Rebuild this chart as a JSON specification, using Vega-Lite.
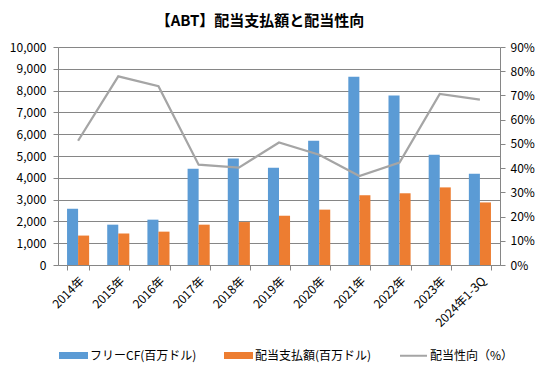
{
  "$schema": "https://vega.github.io/schema/vega-lite/v6.json",
  "width": 442,
  "height": 218,
  "autosize": {"type": "none"},
  "padding": {"left": 58, "top": 47, "right": 46, "bottom": 110},
  "background": "#ffffff",
  "title": {
    "text": "【ABT】配当支払額と配当性向",
    "font": "Noto Sans CJK JP",
    "fontSize": 15,
    "fontWeight": "bold",
    "color": "#000000",
    "anchor": "middle",
    "dx": -19,
    "offset": 12
  },
  "config": {
    "font": "Noto Sans CJK JP",
    "view": {"stroke": null},
    "axis": {
      "domainColor": "#868686",
      "tickColor": "#868686",
      "gridColor": "#868686",
      "labelColor": "#000000",
      "labelFont": "Noto Sans CJK JP",
      "labelFontSize": 12,
      "tickSize": 5,
      "title": null
    }
  },
  "data": {
    "values": [
      {"year": "2014年", "series": "フリーCF(百万ドル)", "value": 2580},
      {"year": "2015年", "series": "フリーCF(百万ドル)", "value": 1850},
      {"year": "2016年", "series": "フリーCF(百万ドル)", "value": 2080},
      {"year": "2017年", "series": "フリーCF(百万ドル)", "value": 4420},
      {"year": "2018年", "series": "フリーCF(百万ドル)", "value": 4880},
      {"year": "2019年", "series": "フリーCF(百万ドル)", "value": 4460},
      {"year": "2020年", "series": "フリーCF(百万ドル)", "value": 5700},
      {"year": "2021年", "series": "フリーCF(百万ドル)", "value": 8640},
      {"year": "2022年", "series": "フリーCF(百万ドル)", "value": 7780},
      {"year": "2023年", "series": "フリーCF(百万ドル)", "value": 5060},
      {"year": "2024年1-3Q", "series": "フリーCF(百万ドル)", "value": 4190},
      {"year": "2014年", "series": "配当支払額(百万ドル)", "value": 1350},
      {"year": "2015年", "series": "配当支払額(百万ドル)", "value": 1440},
      {"year": "2016年", "series": "配当支払額(百万ドル)", "value": 1530},
      {"year": "2017年", "series": "配当支払額(百万ドル)", "value": 1850},
      {"year": "2018年", "series": "配当支払額(百万ドル)", "value": 1970},
      {"year": "2019年", "series": "配当支払額(百万ドル)", "value": 2260},
      {"year": "2020年", "series": "配当支払額(百万ドル)", "value": 2540},
      {"year": "2021年", "series": "配当支払額(百万ドル)", "value": 3200},
      {"year": "2022年", "series": "配当支払額(百万ドル)", "value": 3290},
      {"year": "2023年", "series": "配当支払額(百万ドル)", "value": 3560},
      {"year": "2024年1-3Q", "series": "配当支払額(百万ドル)", "value": 2870},
      {"year": "2014年", "series": "配当性向（%）", "value": 0.513},
      {"year": "2015年", "series": "配当性向（%）", "value": 0.779},
      {"year": "2016年", "series": "配当性向（%）", "value": 0.738},
      {"year": "2017年", "series": "配当性向（%）", "value": 0.414},
      {"year": "2018年", "series": "配当性向（%）", "value": 0.402},
      {"year": "2019年", "series": "配当性向（%）", "value": 0.506},
      {"year": "2020年", "series": "配当性向（%）", "value": 0.455},
      {"year": "2021年", "series": "配当性向（%）", "value": 0.367},
      {"year": "2022年", "series": "配当性向（%）", "value": 0.423},
      {"year": "2023年", "series": "配当性向（%）", "value": 0.706},
      {"year": "2024年1-3Q", "series": "配当性向（%）", "value": 0.683}
    ]
  },
  "encoding": {
    "x": {
      "field": "year",
      "type": "nominal",
      "sort": null,
      "scale": {"paddingInner": 0.45, "paddingOuter": 0.225},
      "axis": {
        "tickBand": "extent",
        "labelAngle": -45,
        "labelPadding": 5,
        "grid": false
      }
    },
    "color": {
      "field": "series",
      "type": "nominal",
      "sort": null,
      "scale": {
        "domain": ["フリーCF(百万ドル)", "配当支払額(百万ドル)", "配当性向（%）"],
        "range": ["#5B9BD5", "#ED7D31", "#A5A5A5"]
      },
      "legend": {
        "title": null,
        "orient": "none",
        "direction": "horizontal",
        "columns": 3,
        "legendX": 1,
        "legendY": 294,
        "labelFont": "Noto Sans CJK JP",
        "labelFontSize": 12,
        "labelColor": "#000000",
        "labelOffset": 2,
        "columnPadding": 24,
        "symbolSize": 729,
        "symbolType": "M-1,-0.18H1V0.18H-1Z",
        "encode": {
          "symbols": {
            "update": {
              "shape": {"signal": "datum.value === '配当性向（%）' ? 'M-1,0H1' : 'M-1,-0.18H1V0.18H-1Z'"},
              "fill": {"signal": "datum.value === '配当性向（%）' ? 'transparent' : (datum.value === 'フリーCF(百万ドル)' ? '#5B9BD5' : '#ED7D31')"},
              "stroke": {"signal": "datum.value === '配当性向（%）' ? '#A5A5A5' : 'transparent'"},
              "strokeWidth": {"value": 2},
              "opacity": {"value": 1},
              "fillOpacity": {"value": 1}
            }
          }
        }
      }
    }
  },
  "layer": [
    {
      "transform": [{"filter": "datum.series !== '配当性向（%）'"}],
      "mark": {"type": "bar", "opacity": 1},
      "encoding": {
        "xOffset": {
          "field": "series",
          "type": "nominal",
          "sort": ["フリーCF(百万ドル)", "配当支払額(百万ドル)"],
          "scale": {"paddingInner": 0, "paddingOuter": 0}
        },
        "y": {
          "field": "value",
          "type": "quantitative",
          "scale": {"domain": [0, 10000], "nice": false},
          "axis": {
            "values": [0, 1000, 2000, 3000, 4000, 5000, 6000, 7000, 8000, 9000, 10000],
            "format": ",.0f",
            "grid": true,
            "labelPadding": 7
          }
        }
      }
    },
    {
      "transform": [{"filter": "datum.series === '配当性向（%）'"}],
      "mark": {"type": "line", "strokeWidth": 2.25},
      "encoding": {
        "y": {
          "field": "value",
          "type": "quantitative",
          "scale": {"domain": [0, 0.9], "nice": false},
          "axis": {
            "orient": "right",
            "values": [0, 0.1, 0.2, 0.3, 0.4, 0.5, 0.6, 0.7, 0.8, 0.9],
            "format": ".0%",
            "grid": false,
            "labelPadding": 5
          }
        }
      }
    }
  ],
  "resolve": {"scale": {"y": "independent"}}
}
